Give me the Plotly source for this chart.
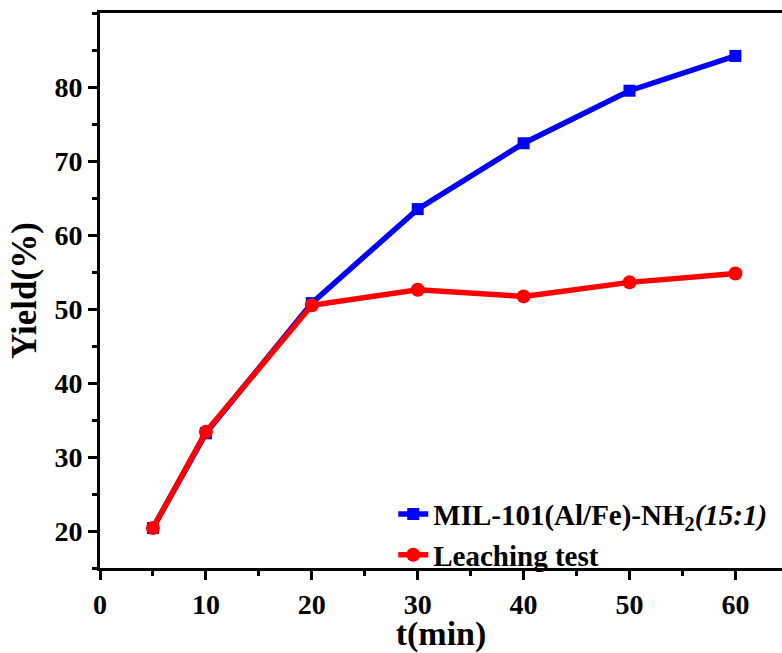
import plotly.graph_objects as go

t_min = [5, 10, 20, 30, 40, 50, 60]
yield_mil = [20.4, 33.2, 50.8, 63.5, 72.4, 79.5, 84.2]
yield_leach = [20.4, 33.4, 50.5, 52.6, 51.7, 53.6, 54.8]
series_names = ["MIL-101(Al/Fe)-NH<sub>2</sub><i>(15:1)</i>", "Leaching test"]
x_ticks = [0, 10, 20, 30, 40, 50, 60]
y_ticks = [20, 30, 40, 50, 60, 70, 80]

FONT = "Liberation Serif, Times New Roman, serif"

fig = go.Figure()
fig.add_trace(go.Scatter(
    x=t_min, y=yield_mil, name=series_names[0], mode="lines+markers",
    line=dict(color="#0000ff", width=5.5),
    marker=dict(symbol="square", size=12, color="#0000ff"),
    legendgroup="a",
))
fig.add_trace(go.Scatter(
    x=t_min, y=yield_leach, name=series_names[1], mode="lines+markers",
    line=dict(color="#ff0000", width=5.5),
    marker=dict(symbol="circle", size=14, color="#ff0000"),
    legendgroup="b",
))

fig.update_layout(
    width=782, height=653,
    margin=dict(l=100, r=0, t=13, b=85),
    plot_bgcolor="white", paper_bgcolor="white",
    font=dict(family=FONT, size=28, color="black", weight="bold"),
    showlegend=True,
    legend=dict(
        x=0.43, y=0.143, xanchor="left", yanchor="top",
        bgcolor="rgba(0,0,0,0)", tracegroupgap=0,
        traceorder="grouped",
        font=dict(family=FONT, size=29, color="black", weight="bold"),
    ),
    xaxis=dict(
        range=[0, 64.4], tickvals=x_ticks,
        showline=True, linecolor="black", linewidth=3, mirror=True,
        ticks="outside", ticklen=9, tickwidth=3, tickcolor="black",
        minor=dict(dtick=5, tick0=0, ticks="outside", ticklen=5, tickwidth=3, tickcolor="black"),
        showgrid=False, zeroline=False,
        title=dict(text="t(min)", font=dict(family=FONT, size=34, weight="bold"), standoff=4),
        tickfont=dict(family=FONT, size=28, weight="bold"),
    ),
    yaxis=dict(
        range=[15, 90], tickvals=y_ticks,
        showline=True, linecolor="black", linewidth=3,
        ticks="outside", ticklen=9, tickwidth=3, tickcolor="black",
        minor=dict(dtick=5, tick0=0, ticks="outside", ticklen=5, tickwidth=3, tickcolor="black"),
        showgrid=False, zeroline=False,
        title=dict(text="Yield(%)", font=dict(family=FONT, size=35, weight="bold"), standoff=8),
        tickfont=dict(family=FONT, size=28, weight="bold"),
    ),
)

fig.write_html("out.html")
